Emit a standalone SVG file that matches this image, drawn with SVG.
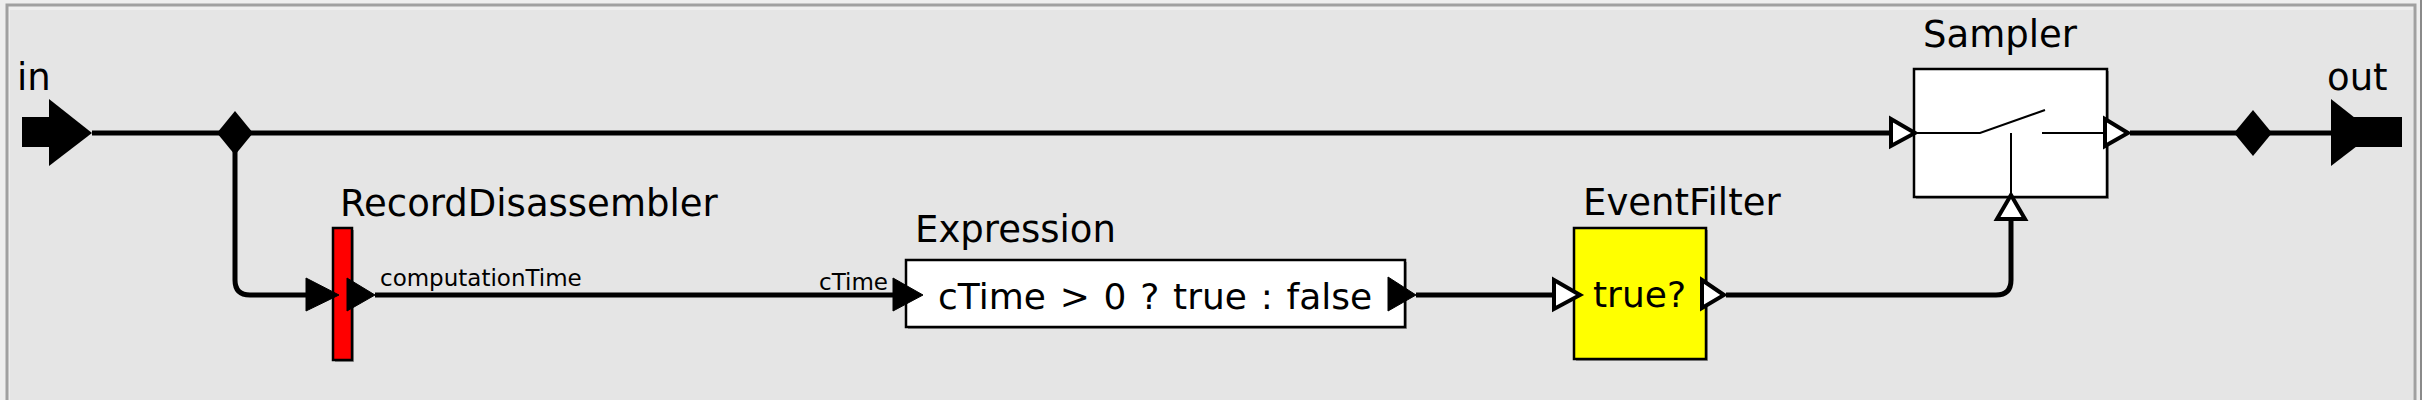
<svg xmlns="http://www.w3.org/2000/svg" width="2422" height="400" viewBox="0 0 2422 400">
<style>
.lbl{font-family:"DejaVu Sans","Liberation Sans",sans-serif;fill:#000}
.title{font-size:37px}
.port{font-size:23px}
.body{font-size:36px}
.wire{fill:none;stroke:#000;stroke-width:5;stroke-linejoin:round}
.box{stroke:#000;stroke-width:2.5}
.shadow{fill:#9a9a9a}
.solid{fill:#000;stroke:#000;stroke-width:1}
.open{fill:#fff;stroke:#000;stroke-width:4;stroke-linejoin:miter}
.thin{stroke:#000;stroke-width:2;fill:none}
</style>
<rect x="0" y="0" width="2422" height="400" fill="#eeeeee"/>
<rect x="7" y="5" width="2408" height="400" fill="none" stroke="#a0a0a0" stroke-width="3"/>
<rect x="10" y="10" width="2403" height="392" fill="#e5e5e5"/>
<line x1="2421" y1="0" x2="2421" y2="400" stroke="#8a8a8a" stroke-width="2"/>

<g id="connectors">
  <path class="wire" d="M92,133 H1892"/>
  <path class="wire" d="M2130,133 H2335"/>
  <path class="wire" d="M235,133 V280 Q235,295 250,295 H310"/>
  <path class="wire" d="M375,295 H896"/>
  <path class="wire" d="M1416,295 H1556"/>
  <path class="wire" d="M1726,295 H1996 Q2011,295 2011,280 V220"/>
  <polygon points="217,133 235,111 253,133 235,155" fill="#000"/>
  <polygon points="2234,133 2253,110 2272,133 2253,156" fill="#000"/>
</g>

<g id="in">
  <text class="lbl title" x="17" y="90">in</text>
  <rect x="22" y="117" width="34" height="30" fill="#000"/>
  <polygon points="49,99 92,133 49,166" fill="#000"/>
</g>

<g id="out">
  <text class="lbl title" x="2327" y="90">out</text>
  <rect x="2352" y="117" width="50" height="30" fill="#000"/>
  <polygon points="2331,99 2374,133 2331,166" fill="#000"/>
</g>

<g id="RecordDisassembler">
  <text class="lbl title" x="340" y="216">RecordDisassembler</text>
  <rect class="shadow" x="335" y="230" width="19" height="132"/>
  <rect class="box" x="333" y="228" width="19" height="132" fill="#ff0000"/>
  <polygon class="solid" points="306,278 339,295 306,311"/>
  <polygon class="solid" points="347,278 375,295 347,311"/>
  <text class="lbl port" x="380" y="286">computationTime</text>
</g>

<g id="Expression">
  <text class="lbl title" x="915" y="242">Expression</text>
  <rect class="shadow" x="908" y="262" width="499" height="67"/>
  <rect class="box" x="906" y="260" width="499" height="67" fill="#fff"/>
  <text class="lbl port" x="888" y="290" text-anchor="end">cTime</text>
  <polygon class="solid" points="893,278 923,295 893,311"/>
  <text class="lbl body" x="938" y="309" word-spacing="2.3">cTime &gt; 0 ? true : false</text>
  <polygon class="solid" points="1388,277 1416,295 1388,311"/>
</g>

<g id="EventFilter">
  <text class="lbl title" x="1583" y="215">EventFilter</text>
  <rect class="shadow" x="1576" y="230" width="132" height="131"/>
  <rect class="box" x="1574" y="228" width="132" height="131" fill="#ffff00"/>
  <text class="lbl body" x="1593" y="307">true?</text>
  <polygon class="open" points="1554,280 1580,295 1554,309"/>
  <polygon class="open" points="1702,280 1724,295 1702,308"/>
</g>

<g id="Sampler">
  <text class="lbl title" x="1923" y="47">Sampler</text>
  <rect class="shadow" x="1916" y="71" width="193" height="128"/>
  <rect class="box" x="1914" y="69" width="193" height="128" fill="#fff"/>
  <path class="thin" d="M1914,133 H1980 L2045,110 M2042,133 H2107 M2011,133 V197"/>
  <polygon class="open" points="1891,119 1915,133 1891,146"/>
  <polygon class="open" points="2105,119 2128,133 2105,146"/>
  <polygon class="open" points="2011,195 2025,219 1997,219"/>
</g>
</svg>
